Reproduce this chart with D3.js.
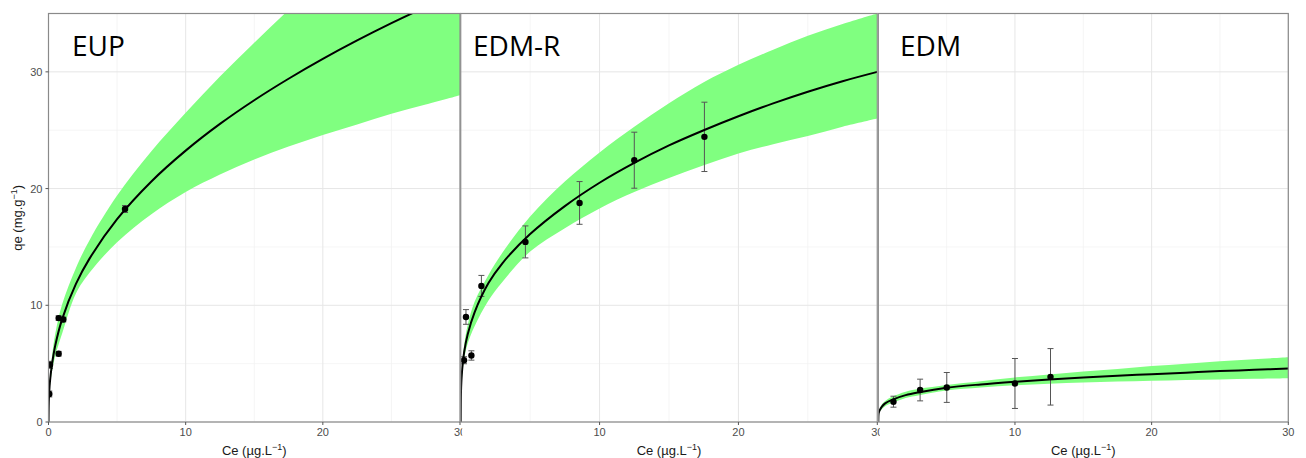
<!DOCTYPE html>
<html>
<head>
<meta charset="utf-8">
<script src="https://cdn.jsdelivr.net/npm/d3@7"></script>
<style>
  html, body { margin: 0; padding: 0; background: #ffffff; }
  svg { display: block; }
</style>
</head>
<body>
<svg id="chart" width="1306" height="458"></svg>
<script>
// ---------------- DATA ----------------
const panelNames = ["EUP", "EDM-R", "EDM"];
const xTicks = [0, 10, 20, 30];
const xMinor = [5, 15, 25];
const yTicks = [0, 10, 20, 30];
const yMinor = [5, 15, 25];

// Ce grid on which the fitted curve and its band were read
const ceGrid = [0, 0.02, 0.05, 0.1, 0.25, 0.5, 1, 2, 3, 5, 7.5, 10, 12.5, 15, 17.5, 20, 22.5, 25, 27.5, 30];

// EUP
const fitEUP   = [0, 1.7, 2.5, 3.4, 4.9, 6.6, 8.84, 11.83, 14.02, 17.38, 20.61, 23.25, 25.54, 27.57, 29.41, 31.11, 32.69, 34.17, 35.56, 36.88];
const upperEUP = [0, 1.9, 2.8, 3.8, 5.6, 7.6, 10.1, 13.2, 15.6, 19.4, 23.2, 26.5, 29.6, 32.5, 35.3, 38.0, 40.5, 43.0, 45.5, 48.0];
const lowerEUP = [0, 1.5, 2.2, 3.0, 4.3, 5.7, 7.6, 11.0, 12.8, 15.4, 17.8, 19.7, 21.2, 22.5, 23.6, 24.6, 25.5, 26.4, 27.2, 28.0];
const ceEUP  = [0.06, 0.11, 0.74, 0.74, 1.08, 5.58];
const qeEUP  = [2.4, 4.9, 5.85, 8.9, 8.78, 18.25];
const errEUP = [0.25, 0.3, 0.2, 0.2, 0.2, 0.3];

// EDM-R
const fitEDMR   = [0, 2.5, 3.5, 4.4, 6.0, 7.5, 9.4, 11.9, 13.6, 16.1, 18.5, 20.5, 22.2, 23.7, 25.0, 26.2, 27.3, 28.3, 29.2, 30.0];
const upperEDMR = [0, 2.8, 3.9, 4.9, 6.6, 8.3, 10.3, 12.6, 14.5, 17.6, 20.6, 23.1, 25.3, 27.3, 29.1, 30.6, 31.9, 33.1, 34.1, 35.0];
const lowerEDMR = [0, 2.2, 3.1, 3.9, 5.4, 6.7, 8.2, 10.4, 12.0, 14.6, 16.6, 18.3, 19.7, 20.9, 22.0, 23.0, 23.8, 24.5, 25.3, 26.0];
const ceEDMR  = [0.24, 0.38, 0.77, 1.49, 4.66, 8.56, 12.5, 17.55];
const qeEDMR  = [5.29, 9.0, 5.7, 11.66, 15.43, 18.77, 22.43, 24.43];
const errEDMR = [0.3, 0.63, 0.4, 0.9, 1.37, 1.83, 2.4, 2.97];

// EDM
const fitEDM   = [0, 0.7, 0.85, 1.0, 1.3, 1.6, 1.9, 2.3, 2.55, 2.93, 3.22, 3.45, 3.65, 3.82, 3.97, 4.1, 4.23, 4.36, 4.47, 4.58];
const upperEDM = [0, 0.8, 0.95, 1.1, 1.5, 1.8, 2.16, 2.6, 2.85, 3.18, 3.5, 3.82, 4.08, 4.32, 4.55, 4.8, 5.0, 5.2, 5.38, 5.55];
const lowerEDM = [0, 0.6, 0.75, 0.9, 1.1, 1.35, 1.62, 2.05, 2.3, 2.7, 2.95, 3.15, 3.28, 3.38, 3.46, 3.53, 3.6, 3.65, 3.7, 3.75];
const ceEDM  = [1.11, 3.06, 5.01, 10.0, 12.6];
const qeEDM  = [1.74, 2.74, 2.96, 3.30, 3.87];
const errEDM = [0.47, 0.93, 1.28, 2.14, 2.42];

// ---------------- LAYOUT ----------------
const panelX = [[48.5, 460], [460.7, 877.3], [878.3, 1288.3]];
const yTop = 13.5, yBottom = 422;

const panels = [
  { name: panelNames[0], fit: fitEUP,  up: upperEUP,  lo: lowerEUP,  ce: ceEUP,  qe: qeEUP,  err: errEUP,  labelX: 72 },
  { name: panelNames[1], fit: fitEDMR, up: upperEDMR, lo: lowerEDMR, ce: ceEDMR, qe: qeEDMR, err: errEDMR, labelX: 473 },
  { name: panelNames[2], fit: fitEDM,  up: upperEDM,  lo: lowerEDM,  ce: ceEDM,  qe: qeEDM,  err: errEDM,  labelX: 900 }
];

const svg = d3.select("#chart");
const defs = svg.append("defs");
const y = d3.scaleLinear().domain([0, 35]).range([yBottom, yTop]);
const tickFont = "'Liberation Sans', Arial, sans-serif";
const smooth = d3.curveCatmullRom.alpha(0.5);

panels.forEach((p, i) => {
  const [x0, x1] = panelX[i];
  const x = d3.scaleLinear().domain([0, 30]).range([x0, x1]);
  const g = svg.append("g");

  // each later panel is pasted on top of the previous one
  if (i > 0) {
    g.append("rect").attr("x", x0 + 1.5).attr("y", 0)
      .attr("width", 1306 - x0).attr("height", 458).attr("fill", "#fff");
  }

  const clipId = "clip" + i;
  defs.append("clipPath").attr("id", clipId)
    .append("rect").attr("x", x0).attr("y", yTop).attr("width", x1 - x0).attr("height", yBottom - yTop);

  // grid
  const grid = g.append("g");
  grid.selectAll(".vmin").data(xMinor).join("line")
    .attr("x1", d => x(d)).attr("x2", d => x(d)).attr("y1", yTop).attr("y2", yBottom)
    .attr("stroke", "#f0f0f0").attr("stroke-width", 0.7);
  grid.selectAll(".hmin").data(yMinor).join("line")
    .attr("x1", x0).attr("x2", x1).attr("y1", d => y(d)).attr("y2", d => y(d))
    .attr("stroke", "#f0f0f0").attr("stroke-width", 0.7);
  grid.selectAll(".vmaj").data(xTicks).join("line")
    .attr("x1", d => x(d)).attr("x2", d => x(d)).attr("y1", yTop).attr("y2", yBottom)
    .attr("stroke", "#e6e6e6").attr("stroke-width", 1);
  grid.selectAll(".hmaj").data(yTicks).join("line")
    .attr("x1", x0).attr("x2", x1).attr("y1", d => y(d)).attr("y2", d => y(d))
    .attr("stroke", "#e6e6e6").attr("stroke-width", 1);

  const plot = g.append("g").attr("clip-path", `url(#${clipId})`);

  // confidence band
  const bandData = ceGrid.map((c, k) => ({ c, lo: p.lo[k], up: p.up[k] }));
  plot.append("path").datum(bandData)
    .attr("d", d3.area().x(d => x(d.c)).y0(d => y(d.lo)).y1(d => y(d.up)).curve(smooth))
    .attr("fill", "#80ff80");

  // error bars
  const pts = p.ce.map((c, k) => ({ c, q: p.qe[k], e: p.err[k] }));
  const eb = plot.append("g").attr("stroke", "#555").attr("stroke-width", 1);
  eb.selectAll(".v").data(pts).join("line")
    .attr("x1", d => x(d.c)).attr("x2", d => x(d.c))
    .attr("y1", d => y(d.q - d.e)).attr("y2", d => y(d.q + d.e));
  eb.selectAll(".t").data(pts).join("line")
    .attr("x1", d => x(d.c) - 3).attr("x2", d => x(d.c) + 3)
    .attr("y1", d => y(d.q + d.e)).attr("y2", d => y(d.q + d.e));
  eb.selectAll(".b").data(pts).join("line")
    .attr("x1", d => x(d.c) - 3).attr("x2", d => x(d.c) + 3)
    .attr("y1", d => y(d.q - d.e)).attr("y2", d => y(d.q - d.e));

  // fitted curve
  const fitData = ceGrid.map((c, k) => ({ c, q: p.fit[k] }));
  plot.append("path").datum(fitData)
    .attr("d", d3.line().x(d => x(d.c)).y(d => y(d.q)).curve(smooth))
    .attr("fill", "none").attr("stroke", "#000").attr("stroke-width", 2);

  // points
  plot.selectAll(".pt").data(pts).join("circle")
    .attr("cx", d => x(d.c)).attr("cy", d => y(d.q)).attr("r", 3.2).attr("fill", "#000");

  // panel border
  g.append("rect").attr("x", x0).attr("y", yTop).attr("width", x1 - x0).attr("height", yBottom - yTop)
    .attr("fill", "none").attr("stroke", "#8a8a8a").attr("stroke-width", 1.2);

  // x axis ticks and labels
  const xt = (i === 0) ? xTicks : xTicks.filter(d => d > 0);
  g.selectAll(".xtick").data(xt).join("line")
    .attr("x1", d => x(d)).attr("x2", d => x(d)).attr("y1", yBottom).attr("y2", yBottom + 3)
    .attr("stroke", "#555").attr("stroke-width", 1);
  g.selectAll(".xlab").data(xt).join("text")
    .attr("x", d => x(d)).attr("y", yBottom + 14)
    .attr("text-anchor", "middle").attr("font-family", tickFont).attr("font-size", 11)
    .attr("fill", "#4d4d4d").text(d => d);

  // x title
  const xt2 = g.append("text").attr("x", (x0 + x1) / 2).attr("y", 455)
    .attr("text-anchor", "middle").attr("font-family", tickFont).attr("font-size", 13).attr("fill", "#1a1a1a");
  xt2.append("tspan").text("Ce (µg.L");
  xt2.append("tspan").attr("dy", -5).attr("font-size", 9).text("−1");
  xt2.append("tspan").attr("dy", 5).text(")");

  // y axis on first panel
  if (i === 0) {
    g.selectAll(".ytick").data(yTicks).join("line")
      .attr("x1", x0 - 3).attr("x2", x0).attr("y1", d => y(d)).attr("y2", d => y(d))
      .attr("stroke", "#555").attr("stroke-width", 1);
    g.selectAll(".ylab").data(yTicks).join("text")
      .attr("x", x0 - 6).attr("y", d => y(d) + 4)
      .attr("text-anchor", "end").attr("font-family", tickFont).attr("font-size", 11)
      .attr("fill", "#4d4d4d").text(d => d);
    const yt = g.append("text")
      .attr("transform", `translate(22,${(yTop + yBottom) / 2}) rotate(-90)`)
      .attr("text-anchor", "middle").attr("font-family", tickFont).attr("font-size", 13).attr("fill", "#1a1a1a");
    yt.append("tspan").text("qe (mg.g");
    yt.append("tspan").attr("dy", -5).attr("font-size", 9).text("−1");
    yt.append("tspan").attr("dy", 5).text(")");
  }

  // panel label
  g.append("text").attr("x", p.labelX).attr("y", 56)
    .attr("font-family", "'Open Sans', 'Noto Sans', sans-serif").attr("font-size", 28)
    .attr("fill", "#000").text(p.name);
});
</script>
</body>
</html>
